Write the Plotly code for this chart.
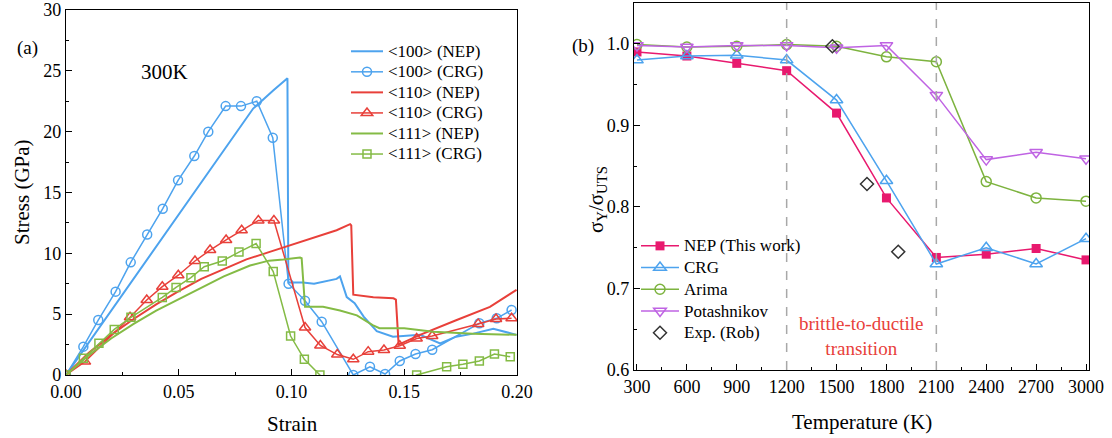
import plotly.graph_objects as go

# ---------------- Panel (a): stress-strain at 300K ----------------
s100_nep_x = [0, 0.03, 0.06, 0.083, 0.092, 0.097, 0.0982, 0.0986, 0.105, 0.11, 0.115, 0.12, 0.1215,
              0.1245, 0.128, 0.132, 0.1378, 0.145, 0.157, 0.1659, 0.173, 0.1806, 0.1895, 0.1998]
s100_nep_y = [0, 7.9, 15.8, 21.9, 23.4, 24.2, 24.4, 7.6, 7.6, 7.5, 7.7, 7.9, 8.1,
              6.4, 5.9, 4.8, 3.6, 3.15, 3.3, 2.6, 3.15, 3.4, 3.8, 3.3]

s100_crg_x = [0, 0.0077, 0.0143, 0.022, 0.0287, 0.036, 0.0429, 0.0497, 0.0569, 0.0631, 0.0708, 0.0776,
              0.0846, 0.0917, 0.0987, 0.106, 0.1134, 0.1274, 0.1348, 0.1415, 0.148, 0.155, 0.1624,
              0.1833, 0.191, 0.1976]
s100_crg_y = [0, 2.33, 4.52, 6.85, 9.26, 11.55, 13.67, 16.0, 18.0, 20.0, 22.1, 22.1,
              22.5, 19.5, 7.5, 6.1, 4.38, 0.0, 0.68, 0.08, 1.15, 1.73, 2.08,
              4.25, 4.66, 5.34]

s110_nep_x = [0, 0.01, 0.02, 0.03, 0.04, 0.05, 0.06, 0.07, 0.08, 0.09, 0.1, 0.11, 0.12, 0.126, 0.1265,
              0.1274, 0.1363, 0.1452, 0.1463, 0.1475, 0.157, 0.173, 0.188, 0.1998]
s110_nep_y = [0, 1.8, 3.3, 4.6, 5.8, 6.9, 7.9, 8.7, 9.5, 10.1, 10.7, 11.3, 11.9, 12.4, 12.3,
              6.6, 6.4, 6.3, 6.2, 2.5, 3.3, 4.5, 5.6, 7.0]

s110_crg_x = [0, 0.0084, 0.0284, 0.0358, 0.0427, 0.0498, 0.0572, 0.0639, 0.071, 0.0779, 0.0853, 0.0922,
              0.106, 0.1128, 0.1203, 0.1274, 0.134, 0.141, 0.148, 0.1555, 0.1624, 0.1828, 0.1907, 0.1976]
s110_crg_y = [0, 1.1, 4.74, 6.16, 7.26, 8.2, 9.37, 10.27, 11.1, 11.9, 12.7, 12.7,
              3.9, 2.43, 1.68, 1.29, 1.92, 2.05, 2.4, 3.0, 3.2, 4.2, 4.6, 4.66]

s111_nep_x = [0, 0.01, 0.02, 0.03, 0.04, 0.052, 0.06, 0.07, 0.0816, 0.09, 0.0964, 0.1038, 0.1045,
              0.106, 0.114, 0.1215, 0.129, 0.136, 0.139, 0.15, 0.1629, 0.1806, 0.1998]
s111_nep_y = [0, 1.6, 3.0, 4.2, 5.3, 6.4, 7.2, 8.1, 9.0, 9.4, 9.5, 9.65, 9.6,
              5.6, 5.6, 5.3, 4.9, 4.1, 3.85, 3.85, 3.55, 3.4, 3.3]

s111_crg_x = [0, 0.0077, 0.0146, 0.0214, 0.0288, 0.0427, 0.0488, 0.0554, 0.0613, 0.0693, 0.0767, 0.0843,
              0.0919, 0.0996, 0.1057, 0.1126, 0.12, 0.148, 0.1555, 0.1688, 0.176, 0.1833, 0.19, 0.197]
s111_crg_y = [0, 1.37, 2.6, 3.75, 4.74, 6.38, 7.2, 8.0, 8.9, 9.37, 10.1, 10.8,
              8.5, 3.2, 1.29, 0.0, -1.0, -0.8, 0.0, 0.68, 0.88, 1.15, 1.73, 1.5]

# ---------------- Panel (b): sigma_Y / sigma_UTS vs T ----------------
temps = [300, 600, 900, 1200, 1500, 1800, 2100, 2400, 2700, 3000]
ratio_nep = [0.990, 0.985, 0.976, 0.967, 0.915, 0.811, 0.738, 0.742, 0.749, 0.735]
ratio_crg = [0.980, 0.985, 0.986, 0.980, 0.931, 0.832, 0.730, 0.750, 0.730, 0.761]
ratio_arima = [0.999, 0.996, 0.997, 0.999, 0.997, 0.984, 0.978, 0.831, 0.811, 0.807]
ratio_pot = [0.998, 0.996, 0.998, 0.998, 0.995, 0.998, 0.937, 0.858, 0.867, 0.859]
exp_T = [1475, 1683, 1871]
exp_ratio = [0.997, 0.828, 0.745]

BLUE = "#4da3ee"
RED = "#e8403a"
GREEN = "#84bb45"
PINK = "#e8196e"
PURPLE = "#bf63e3"
AGREEN = "#7db33f"
FONT = "Liberation Serif"

fig = go.Figure()

def lname(s):
    s = s.replace("<", "&lt;").replace(">", "&gt;")
    return '<span style="font-size:17px">' + s + "</span>"

fig.add_trace(go.Scatter(x=s100_nep_x, y=s100_nep_y, mode="lines", name=lname("<100> (NEP)"),
                         line=dict(color=BLUE, width=2), xaxis="x", yaxis="y", legend="legend"))
fig.add_trace(go.Scatter(x=s100_crg_x, y=s100_crg_y, mode="lines+markers", name=lname("<100> (CRG)"),
                         line=dict(color=BLUE, width=1.5),
                         marker=dict(symbol="circle-open", size=9, color=BLUE, line=dict(width=1.5)),
                         xaxis="x", yaxis="y", legend="legend"))
fig.add_trace(go.Scatter(x=s110_nep_x, y=s110_nep_y, mode="lines", name=lname("<110> (NEP)"),
                         line=dict(color=RED, width=2), xaxis="x", yaxis="y", legend="legend"))
fig.add_trace(go.Scatter(x=s110_crg_x, y=s110_crg_y, mode="lines+markers", name=lname("<110> (CRG)"),
                         line=dict(color=RED, width=1.5),
                         marker=dict(symbol="triangle-up-open", size=10, color=RED, line=dict(width=1.5)),
                         xaxis="x", yaxis="y", legend="legend"))
fig.add_trace(go.Scatter(x=s111_nep_x, y=s111_nep_y, mode="lines", name=lname("<111> (NEP)"),
                         line=dict(color=GREEN, width=2), xaxis="x", yaxis="y", legend="legend"))
fig.add_trace(go.Scatter(x=s111_crg_x, y=s111_crg_y, mode="lines+markers", name=lname("<111> (CRG)"),
                         line=dict(color=GREEN, width=1.5),
                         marker=dict(symbol="square-open", size=8, color=GREEN, line=dict(width=1.5)),
                         xaxis="x", yaxis="y", legend="legend"))

fig.add_trace(go.Scatter(x=temps, y=ratio_nep, mode="lines+markers", name=lname("NEP (This work)"),
                         line=dict(color=PINK, width=1.5),
                         marker=dict(symbol="square", size=9, color=PINK),
                         xaxis="x2", yaxis="y2", legend="legend2"))
fig.add_trace(go.Scatter(x=temps, y=ratio_crg, mode="lines+markers", name=lname("CRG"),
                         line=dict(color=BLUE, width=1.5),
                         marker=dict(symbol="triangle-up-open", size=11, color=BLUE, line=dict(width=1.5)),
                         xaxis="x2", yaxis="y2", legend="legend2"))
fig.add_trace(go.Scatter(x=temps, y=ratio_arima, mode="lines+markers", name=lname("Arima"),
                         line=dict(color=AGREEN, width=1.5),
                         marker=dict(symbol="circle-open", size=10, color=AGREEN, line=dict(width=1.5)),
                         xaxis="x2", yaxis="y2", legend="legend2"))
fig.add_trace(go.Scatter(x=temps, y=ratio_pot, mode="lines+markers", name=lname("Potashnikov"),
                         line=dict(color=PURPLE, width=1.5),
                         marker=dict(symbol="triangle-down-open", size=11, color=PURPLE, line=dict(width=1.5)),
                         xaxis="x2", yaxis="y2", legend="legend2"))
fig.add_trace(go.Scatter(x=exp_T, y=exp_ratio, mode="markers", name=lname("Exp. (Rob)"),
                         marker=dict(symbol="diamond-open", size=10, color="#333333", line=dict(width=1.5)),
                         xaxis="x2", yaxis="y2", legend="legend2"))

W, H = 1112, 438
def px(v): return v / W
def py(v): return 1 - v / H

axis_common = dict(showline=True, linecolor="black", linewidth=1.3, mirror=True, ticks="inside",
                   ticklen=6, tickwidth=1.2, tickcolor="black", showgrid=False, zeroline=False,
                   automargin=False,
                   tickfont=dict(family=FONT, size=18, color="black"))

fig.update_layout(
    width=W, height=H, margin=dict(l=0, r=0, t=0, b=0, autoexpand=False),
    paper_bgcolor="white", plot_bgcolor="white",
    font=dict(family=FONT, color="black"),
    xaxis=dict(domain=[px(66), px(517)], range=[0, 0.2], tickvals=[0, 0.05, 0.1, 0.15, 0.2],
               tickformat=".2f", anchor="y",
               minor=dict(ticks="inside", ticklen=3, dtick=0.025, tick0=0, tickcolor="black"),
               **axis_common),
    yaxis=dict(domain=[py(375), py(10)], range=[0, 30], dtick=5, anchor="x",
               minor=dict(ticks="inside", ticklen=3, dtick=2.5, tick0=0, tickcolor="black"),
               **axis_common),
    xaxis2=dict(domain=[px(634), px(1089)], range=[282, 3018],
                tickvals=temps, anchor="y2",
                minor=dict(ticks="inside", ticklen=3, dtick=150, tick0=300, tickcolor="black"),
                **axis_common),
    yaxis2=dict(domain=[py(370), py(3)], range=[0.6, 1.05], dtick=0.1, tickformat=".1f", anchor="x2",
                minor=dict(ticks="inside", ticklen=3, dtick=0.05, tick0=0.6, tickcolor="black"),
                **axis_common),
    legend=dict(x=px(346), y=py(36), xanchor="left", yanchor="top", bgcolor="rgba(0,0,0,0)",
                itemwidth=32, font=dict(family=FONT, size=13.5, color="black")),
    legend2=dict(x=px(636), y=py(230), xanchor="left", yanchor="top", bgcolor="rgba(0,0,0,0)",
                 itemwidth=38, font=dict(family=FONT, size=14.4, color="black")),
    showlegend=True,
)

for xv in [1200, 2100]:
    fig.add_shape(type="line", xref="x2", yref="y2 domain", x0=xv, x1=xv, y0=0, y1=1,
                  line=dict(color="#a8a8a8", width=1.5, dash="dash"))

ann_font = dict(family=FONT, size=21, color="black")
def ann(text, x, y, font, xref="paper", angle=0):
    fig.add_annotation(text=text, x=x, y=y, xref=xref, yref="paper", showarrow=False,
                       font=font, textangle=angle, xanchor="center", yanchor="middle")

ann("Strain", px(292), py(424), ann_font)
ann("Stress (GPa)", px(22), py(192), ann_font, angle=-90)
ann("Temperature (K)", px(862), py(422), ann_font)
ann("σ<sub>Y</sub>/σ<sub>UTS</sub>", px(597), py(200), ann_font, angle=-90)
ann("(a)", px(27), py(48), dict(family=FONT, size=19, color="black"))
ann("300K", px(164), py(72), dict(family=FONT, size=21, color="black"))
ann("(b)", px(583), py(46), dict(family=FONT, size=19, color="black"))
ann("brittle-to-ductile<br>transition", 1650, py(336), dict(family=FONT, size=19, color="#e8403a"), xref="x2")

fig.write_html("out.html", post_script="document.body.style.margin='0';",
               config={"displayModeBar": False})
